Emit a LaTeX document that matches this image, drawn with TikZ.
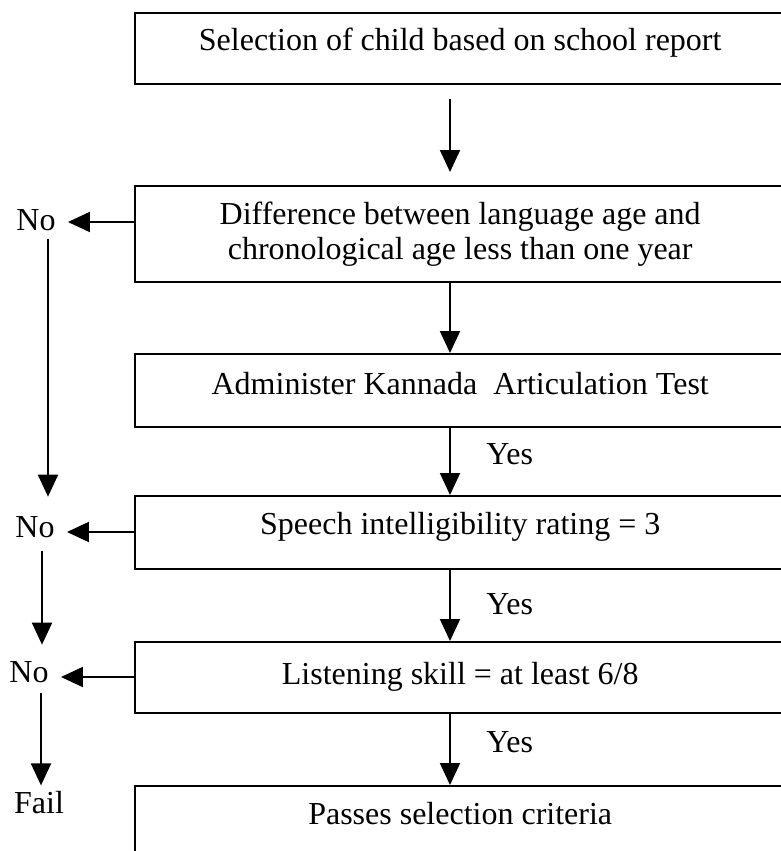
\documentclass[tikz,border=0pt]{standalone}
\usepackage{fontspec}
\setmainfont{Liberation Serif}
\usetikzlibrary{arrows.meta}
\begin{document}
\begin{tikzpicture}[x=0.5pt,y=-0.5pt,
  font=\fontsize{16pt}{17.5pt}\selectfont,
  box/.style={draw, line width=1.2pt, anchor=north west, inner sep=0pt, minimum width=325pt},
  lbl/.style={inner sep=2pt, anchor=base},
  arr/.style={line width=1pt, -{Triangle[length=11pt,width=10pt]}}]
\useasboundingbox (0,0) rectangle (781,851);
\clip (0,0) rectangle (781,851);
% boxes
\node[box, text height=18.5pt, text depth=17pt] (b1) at (134,12) {Selection of child based on school report};
\node[box, minimum height=48pt, align=center] (b2) at (134,185) {Difference between language age and\\chronological age less than one year};
\node[box, text height=20pt, text depth=16.5pt] (b3) at (134,353) {Administer Kannada~ Articulation Test};
\node[box, text height=19pt, text depth=17.5pt] (b4) at (134,495) {Speech intelligibility rating = 3};
\node[box, text height=21pt, text depth=14.5pt] (b5) at (134,641) {Listening skill = at least 6/8};
\node[box, text height=19pt, text depth=20pt] (b6) at (134,785) {Passes selection criteria};
% side labels
\node[lbl] (n1) at (36,230) {No};
\node[lbl] (n2) at (35,537) {No};
\node[lbl] (n3) at (29,682) {No};
\node[lbl] (f) at (39,813) {Fail};
\node[lbl, anchor=base west] (y1) at (482,464) {Yes};
\node[lbl, anchor=base west] (y2) at (482,614) {Yes};
\node[lbl, anchor=base west] (y3) at (482,752) {Yes};
% main vertical arrows
\draw[arr, shorten <=7pt, shorten >=6.5pt] ([xshift=158pt]b1.south west) -- ([xshift=158pt]b2.north west);
\draw[arr] ([xshift=158pt]b2.south west) -- ([xshift=158pt]b3.north west);
\draw[arr] ([xshift=158pt]b3.south west) -- ([xshift=158pt]b4.north west);
\draw[arr] ([xshift=158pt]b4.south west) -- ([xshift=158pt]b5.north west);
\draw[arr] ([xshift=158pt]b5.south west) -- ([xshift=158pt]b6.north west);
% No arrows
\coordinate (h1) at ([yshift=-18.5pt]b2.north west);
\coordinate (h2) at ([yshift=-18.5pt]b4.north west);
\coordinate (h3) at ([yshift=-18pt]b5.north west);
\draw[arr, shorten >=4pt] (h1) -- (h1 -| n1.east);
\draw[arr, shorten >=4pt] (h2) -- (h2 -| n2.east);
\draw[arr, shorten >=4pt] (h3) -- (h3 -| n3.east);
% left vertical arrows
\coordinate (v1) at ([xshift=6pt]n1.south);
\coordinate (v2) at ([xshift=3.5pt]n2.south);
\coordinate (v3) at ([xshift=6pt]n3.south);
\path (v1 |- n2.north) ++(0,-15) coordinate (v1e);
\path (v2 |- n3.north) ++(0,-12) coordinate (v2e);
\path (v3 |- f.north) ++(0,-1) coordinate (v3e);
\draw[arr, shorten <=2pt] (v1) -- (v1e);
\draw[arr, shorten <=4.5pt] (v2) -- (v2e);
\draw[arr, shorten <=3pt] (v3) -- (v3e);
\end{tikzpicture}
\end{document}
